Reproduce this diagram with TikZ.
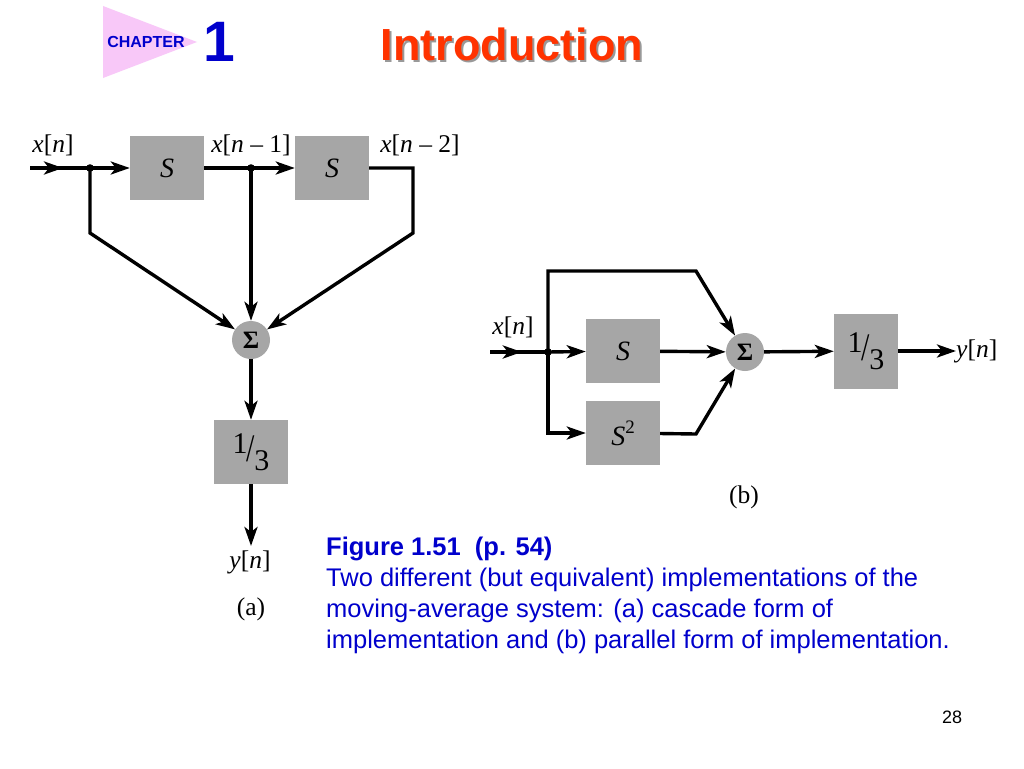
\documentclass[tikz,border=0pt]{standalone}
\usepackage{fontspec}
\setmainfont{Liberation Serif}
\newfontfamily\arialfont{Liberation Sans}
\usetikzlibrary{positioning,arrows.meta,decorations.markings}
\definecolor{boxgray}{RGB}{166,166,166}
\definecolor{capblue}{RGB}{0,0,204}
\definecolor{titlered}{RGB}{255,51,0}
\definecolor{chappink}{RGB}{248,200,248}
\newcommand{\onethird}{{\fontsize{30}{30}\selectfont\raisebox{.28em}{1}\kern-.04em\scalebox{1}[1.3]{/}\kern-.02em\raisebox{-.28em}{3}}}
\tikzset{
>={Stealth[length=19pt,width=13pt,inset=5pt]},
  line/.style={draw, line width=3.4pt},
  block/.style={
    rectangle,
    fill=boxgray,
    minimum width=74pt,
    minimum height=64pt,
    inner sep=0pt,
    font=\fontsize{28}{28}\selectfont},
  adder/.style={
    circle,
    fill=boxgray,
    minimum size=38pt,
    inner sep=0pt,
    font=\fontsize{25}{25}\selectfont\bfseries},
  signal/.style={inner sep=0pt, font=\fontsize{25.5}{25.5}\selectfont},
  midarrow/.style={line, postaction={decorate},
    decoration={markings, mark=at position .55 with {\arrow{>}}}},
}

\begin{document}
\begin{tikzpicture}[x=1pt, y=-1pt]
  \useasboundingbox (0,0) rectangle (1024,768);
  \fill[white] (0,0) rectangle (1024,768);

  % header
  \fill[chappink] (103,6) -- (197,42) -- (103,78) -- cycle;
  \node[text=capblue, font=\arialfont\bfseries\fontsize{16}{16}\selectfont] (chap) at (146,42) {CHAPTER};
  \node[text=capblue, font=\arialfont\bfseries\fontsize{57}{57}\selectfont] (chapnum) at (219,42) {1};
  \node[text=black!40, font=\arialfont\bfseries\fontsize{45}{45}\selectfont] at (514,46) {Introduction};
  \node[text=titlered, font=\arialfont\bfseries\fontsize{45}{45}\selectfont] (title) at (512,44) {Introduction};

  % (a) cascade form
  \node[block] (sA1) at (167,168) {\textit{S}};
  \node[block] (sA2) at (332,168) {\textit{S}};
  \node[adder] (sumA) at (251,340) {Σ};
  \node[block] (thirdA) at (251,452) {\onethird};
  \coordinate (inA) at (30,168);
  \coordinate (dotA) at (90,168);
  \coordinate (dotB) at (251,168);
  \coordinate (kneeA1) at (90,233);
  \coordinate (kneeA2) at (413,233);
  \coordinate (outA) at (251,546);
  \node[signal] (xA) at (53,145) {\textit{x}[\textit{n}]};
  \node[signal] (xA1) at (251,145) {\textit{x}[\textit{n} – 1]};
  \node[signal] (xA2) at (420,145) {\textit{x}[\textit{n} – 2]};
  \node[signal] (yA) at (250,562) {\textit{y}[\textit{n}]};
  \node[signal] (capA) at (251,609) {(a)};

  \path[midarrow] (inA) -- (dotA);
  \path[line, ->] (dotA) -- (sA1);
  \path[line, ->] (sA1) -- (sA2);
  \path[line, ->] (dotA) -- (kneeA1) -- (sumA);
  \path[line, ->] (dotB) -- (sumA);
  \path[line, ->] (sA2) -| (kneeA2) -- (sumA);
  \path[line, ->] (sumA) -- (thirdA);
  \path[line, ->] (thirdA) -- (outA);
  \fill (dotA) circle (3.8) (dotB) circle (3.8);

  % (b) parallel form
  \node[block] (sB1) at (623,351) {\textit{S}};
  \node[block] (sB2) at (623,433) {\textit{S}\raisebox{.42em}{\fontsize{19}{19}\selectfont 2}};
  \node[adder] (sumB) at (745,352) {Σ};
  \node[block, minimum width=64pt, minimum height=75pt] (thirdB) at (866,351) {\onethird};
  \coordinate (inB) at (490,352);
  \coordinate (dotC) at (548,352);
  \coordinate (kneeB1) at (696,271);
  \coordinate (kneeB2) at (696,434);
  \node[signal, anchor=west] (yB) at (956,351) {\textit{y}[\textit{n}]};
  \node[signal] (xB) at (513,327) {\textit{x}[\textit{n}]};
  \node[signal] (capB) at (744,497) {(b)};

  \path[midarrow] (inB) -- (dotC);
  \path[line, ->] (dotC) -- (sB1);
  \path[line, ->] (dotC) |- (sB2);
  \path[line, ->] (dotC) |- (kneeB1) -- (sumB);
  \path[line, ->] (sB1) -- (sumB);
  \path[line, ->] (sB2) -- (kneeB2) -- (sumB);
  \path[line, ->] (sumB) -- (thirdB);
  \path[line, ->] (thirdB) -- (yB);
  \fill (dotC) circle (3.8);

  % caption
  \node[anchor=north west, align=left, inner sep=0pt, text=capblue,
    font=\arialfont\fontsize{25.5}{31}\selectfont] (caption) at (326,537)
    {\textbf{Figure 1.51\ \ (p. 54)}\\
     Two different (but equivalent) implementations of the\\
     moving-average system: (a) cascade form of\\
     implementation and (b) parallel form of implementation.};
  \node[font=\arialfont\fontsize{18}{18}\selectfont] (pagenum) at (952,717) {28};
\end{tikzpicture}
\end{document}
